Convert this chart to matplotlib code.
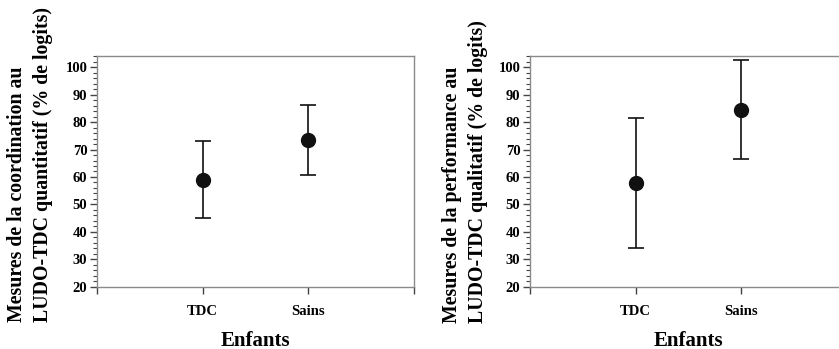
import matplotlib
matplotlib.use("Agg")
import matplotlib.pyplot as plt
from matplotlib.ticker import MultipleLocator, FixedLocator

plt.rcParams['font.family'] = ['Liberation Serif', 'DejaVu Serif']
plt.rcParams['font.weight'] = 'bold'

# Data
groups = ["TDC", "Sains"]
coord_mean = [59.0, 73.4]
coord_err = [14.0, 12.8]
perf_mean = [57.7, 84.5]
perf_err = [23.6, 18.1]

ylabels = ["Mesures de la coordination au\nLUDO-TDC quantitatif (% de logits)",
           "Mesures de la performance au\nLUDO-TDC qualitatif (% de logits)"]

fig = plt.figure(figsize=(8.39, 3.49), dpi=100)
ax1 = fig.add_axes([0.1156, 0.1777, 0.3778, 0.6618])
ax2 = fig.add_axes([0.6317, 0.1777, 0.3778, 0.6618])

spine_col = '#8a8a8a'

def panel(ax, means, errs, ylab, lab_x, lab_y):
    x = [1, 2]
    ax.errorbar(x, means, yerr=errs, fmt='o', color='#111111', ms=10,
                capsize=6, elinewidth=1.2, capthick=1.2)
    ax.set_xlim(0, 3)
    ax.set_ylim(20, 104)
    ax.yaxis.set_major_locator(FixedLocator(range(20, 101, 10)))
    ax.yaxis.set_minor_locator(MultipleLocator(2))
    ax.xaxis.set_major_locator(FixedLocator([0, 1, 2, 3]))
    ax.set_xticklabels(["", groups[0], groups[1], ""])
    for s in ax.spines.values():
        s.set_color(spine_col)
        s.set_linewidth(1.0)
    ax.tick_params(axis='y', which='major', length=5, width=1, color='#444444',
                   labelsize=10.5, pad=2)
    ax.tick_params(axis='y', which='minor', length=3, width=0.8, color='#444444')
    ax.tick_params(axis='x', which='major', length=5, width=1, color='#444444',
                   labelsize=10.5, pad=8)
    for lab in ax.get_xticklabels() + ax.get_yticklabels():
        lab.set_fontweight('bold')
    ax.set_xlabel("Enfants", fontsize=15, fontweight='bold', labelpad=9)
    # two-line y label, lines aligned at their start like the original
    fig.text(lab_x, lab_y, ylab, rotation=90, ha='center', va='bottom',
             multialignment='left', fontsize=14.3, fontweight='bold',
             linespacing=1.45)

panel(ax1, coord_mean, coord_err, ylabels[0], 30 / 839, 1 - 322 / 349)
panel(ax2, perf_mean, perf_err, ylabels[1], 465 / 839, 1 - 323 / 349)

fig.savefig("out.png", dpi=100)
